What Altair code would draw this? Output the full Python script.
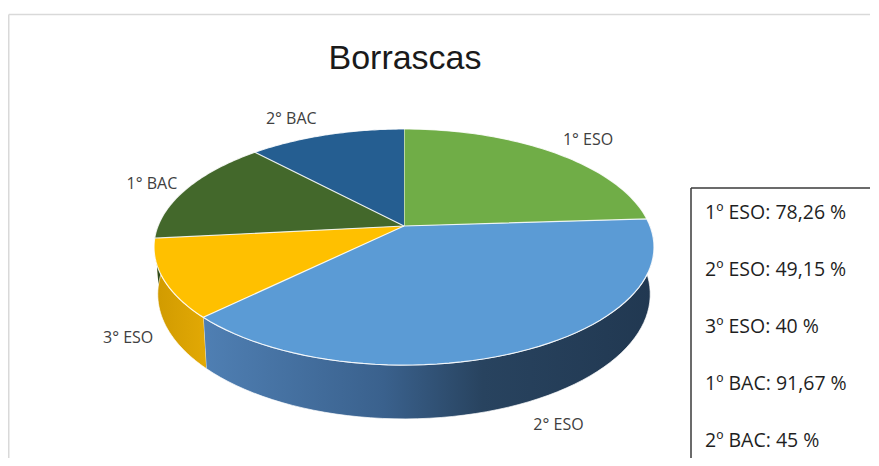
import altair as alt
import pandas as pd

# ---- data ----
cursos = ["1° ESO", "2° ESO", "3° ESO", "1° BAC", "2° BAC"]          # pie labels
alumnos = [18, 29, 8, 11, 9]                                          # slice values
cursos_cuadro = ["1º ESO", "2º ESO", "3º ESO", "1º BAC", "2º BAC"]   # text box labels
porcentajes = ["78,26", "49,15", "40", "91,67", "45"]                 # text box values

colores = ["#70ad47", "#5b9bd5", "#ffc000", "#43682b", "#255e91"]
paredes = {
    "1° ESO": [(0, "#5a8a3a"), (1, "#3f6428")],
    "2° ESO": [(0, "#4f7fb3"), (0.4, "#3a618d"), (0.62, "#28435f"), (1, "#213851")],
    "3° ESO": [(0, "#d09a00"), (1, "#e2a905")],
    "1° BAC": [(0, "#36551f"), (1, "#2a4318")],
    "2° BAC": [(0, "#1e4c75"), (1, "#173b5b")],
}

# 3-D projection parameters (perspective pie)
C = -0.178   # perspective factor
K = 0.4646   # vertical flattening
D = 0.187    # wall depth
S = 0.985    # bottom face shrink
LX = 35 / 246   # label horizontal gap
LY = 19 / 246   # label vertical gap

W, H = 863, 450
xs = alt.Scale(domain=[-1.60976, 1.89837], nice=False, zero=False)
y_top = -218 / 246
ys = alt.Scale(domain=[y_top, y_top + H / 246], reverse=True, nice=False, zero=False)
X = alt.X("xn:Q", scale=xs, axis=None)
Y = alt.Y("yn:Q", scale=ys, axis=None)

slices = pd.DataFrame({"curso": cursos, "alumnos": alumnos, "orden": list(range(len(cursos)))})

base = (
    alt.Chart(slices)
    .transform_window(cum="sum(alumnos)", sort=[alt.SortField("orden")])
    .transform_joinaggregate(total="sum(alumnos)")
    .transform_calculate(
        t1="2*PI*datum.cum/datum.total",
        t0="2*PI*(datum.cum-datum.alumnos)/datum.total",
    )
)

# side walls
wall = (
    base.transform_calculate(a="max(datum.t0, PI/2)", b="min(datum.t1, 3*PI/2)")
    .transform_filter("datum.a < datum.b")
    .transform_calculate(seq="sequence(0, 120)")
    .transform_flatten(["seq"])
    .transform_calculate(
        top="datum.seq < 60",
        f="datum.seq < 60 ? datum.seq/59 : (119 - datum.seq)/59",
    )
    .transform_calculate(th="datum.a + (datum.b - datum.a)*datum.f")
    .transform_calculate(u="sin(datum.th)", v="-cos(datum.th)")
    .transform_calculate(den=f"1 + ({C})*datum.v", sc=f"datum.top ? 1 : {S}")
    .transform_calculate(
        xn="datum.sc*datum.u/datum.den",
        yn=f"datum.sc*{K}*datum.v/datum.den + (datum.top ? 0 : {D}/datum.den)",
    )
)

wall_layers = []
for c in cursos:
    grad = alt.Gradient(
        gradient="linear",
        stops=[alt.GradientStop(offset=o, color=col) for o, col in paredes[c]],
        x1=0, x2=1, y1=0, y2=0,
    )
    wall_layers.append(
        wall.transform_filter(alt.datum.curso == c)
        .mark_line(fill=grad, stroke="white", strokeWidth=1, strokeOpacity=0.7)
        .encode(x=X, y=Y, order=alt.Order("seq:Q"))
    )

# top faces
top = (
    base.transform_calculate(seq="sequence(0, 61)")
    .transform_flatten(["seq"])
    .transform_calculate(
        r="datum.seq == 0 ? 0 : 1",
        th="datum.t0 + (datum.t1 - datum.t0) * max(datum.seq - 1, 0) / 59",
    )
    .transform_calculate(u="datum.r*sin(datum.th)", v="-datum.r*cos(datum.th)")
    .transform_calculate(den=f"1 + ({C})*datum.v")
    .transform_calculate(xn="datum.u/datum.den", yn=f"{K}*datum.v/datum.den")
    .mark_line(stroke="white", strokeWidth=1.2, strokeOpacity=0.85)
    .encode(
        x=X, y=Y,
        fill=alt.Fill("curso:N", scale=alt.Scale(domain=cursos, range=colores), legend=None),
        detail="curso:N",
        order=alt.Order("seq:Q"),
    )
)

# slice labels (outside the rim, in the middle of each slice)
labels = (
    base.transform_calculate(m="(datum.t0 + datum.t1)/2")
    .transform_calculate(u="sin(datum.m)", v="-cos(datum.m)")
    .transform_calculate(den=f"1 + ({C})*datum.v")
    .transform_calculate(
        xn=f"datum.u/datum.den + (datum.u > 0 ? {LX} : -{LX})",
        yn=f"{K}*datum.v/datum.den + (datum.v > 0 ? {D}/datum.den : 0) + {LY}*datum.v + 0.008",
    )
    .mark_text(font="Open Sans", fontSize=16, color="#404040", align="center", baseline="middle")
    .encode(x=X, y=Y, text="curso:N")
)

one = pd.DataFrame({"k": [0]})

frame_top = alt.Chart(one).mark_rule(stroke="#d9d9d9", strokeWidth=1.5).encode(
    x=alt.value(0.75), x2=alt.value(W - 1), y=alt.value(6.5)
)
frame_left = alt.Chart(one).mark_rule(stroke="#d9d9d9", strokeWidth=1.5).encode(
    x=alt.value(0.75), y=alt.value(6.5), y2=alt.value(H)
)

title = alt.Chart(pd.DataFrame({"t": ["Borrascas"]})).mark_text(
    font="Liberation Sans", fontSize=34, color="#1a1a1a", align="center", baseline="alphabetic"
).encode(x=alt.value(397), y=alt.value(61), text="t:N")

box_top = alt.Chart(one).mark_rule(stroke="#3a3a3a", strokeWidth=1.5).encode(
    x=alt.value(683), x2=alt.value(W - 1), y=alt.value(180)
)
box_left = alt.Chart(one).mark_rule(stroke="#3a3a3a", strokeWidth=1.5).encode(
    x=alt.value(683), y=alt.value(180), y2=alt.value(H)
)

box_df = pd.DataFrame({
    "texto": [f"{c}: {p} %" for c, p in zip(cursos_cuadro, porcentajes)],
    "fila": list(range(len(cursos_cuadro))),
})
box_text = alt.Chart(box_df).mark_text(
    font="Open Sans", fontSize=19.5, color="#1f1f1f", align="left", baseline="alphabetic"
).encode(
    x=alt.value(697),
    y=alt.Y("fila:O", axis=None, scale=alt.Scale(type="point", domain=list(range(5)), range=[211, 439], padding=0)),
    text="texto:N",
)

chart = (
    alt.layer(frame_top, frame_left, title, *wall_layers, top, labels, box_top, box_left, box_text)
    .resolve_scale(y="independent")
    .properties(width=W, height=H, autosize=alt.AutoSizeParams(type="none"), padding=0, background="white")
    .configure_view(strokeWidth=0)
)

chart.save("out.html", embed_options={"renderer": "svg", "actions": False})
